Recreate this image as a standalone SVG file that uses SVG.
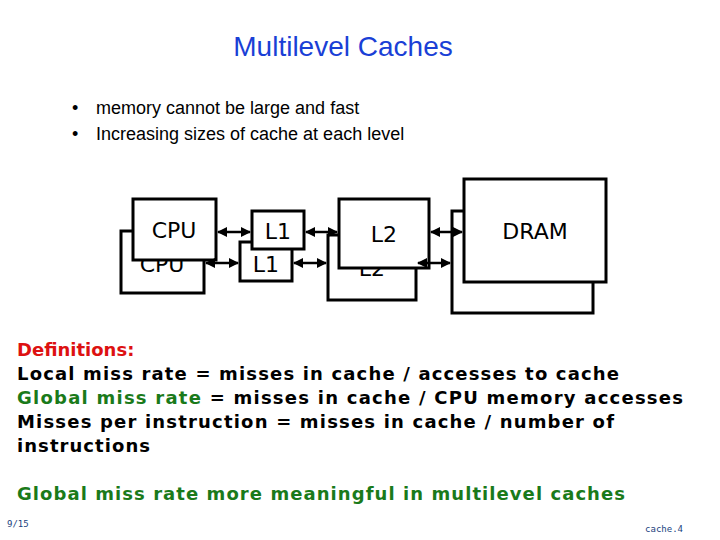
<svg xmlns="http://www.w3.org/2000/svg" width="720" height="540" viewBox="0 0 720 540">
<defs>
<marker id="a" viewBox="0 0 10 10" refX="9" refY="5" markerWidth="4" markerHeight="4" orient="auto-start-reverse"><path d="M0,0L10,5L0,10z" fill="#000"/></marker>
<style>
.b{fill:#fff;stroke:#000;stroke-width:3}
.n{font-family:"DejaVu Sans",sans-serif;font-size:22px;text-anchor:middle;fill:#000}
.d{font-family:"DejaVu Sans",sans-serif;font-weight:bold;font-size:18px;fill:#000}
.c{stroke:#000;stroke-width:2.5;fill:none;marker-start:url(#a);marker-end:url(#a)}
.s{font-family:"Liberation Sans",sans-serif;font-size:18px;fill:#000}
</style>
</defs>
<rect width="720" height="540" fill="#fff"/>
<text x="343" y="56" font-family="Liberation Sans,sans-serif" font-size="28" fill="#1a3fd6" text-anchor="middle">Multilevel Caches</text>
<text class="s" x="72" y="114">•</text><text class="s" x="96" y="114">memory cannot be large and fast</text>
<text class="s" x="72" y="140">•</text><text class="s" x="96" y="140">Increasing sizes of cache at each level</text>
<g id="cpu2"><rect class="b" x="121" y="231" width="83" height="62"/><text class="n" x="162" y="272">CPU</text></g>
<g id="l1b"><rect class="b" x="240" y="242" width="52" height="39"/><text class="n" x="266" y="272">L1</text></g>
<g id="l2b"><rect class="b" x="328" y="235" width="88" height="65"/><text class="n" x="372" y="276">L2</text></g>
<g id="dramb"><rect class="b" x="452" y="211" width="141" height="102"/></g>
<g id="cpu"><rect class="b" x="133" y="199" width="83" height="61"/><text class="n" x="174" y="238">CPU</text></g>
<g id="l1"><rect class="b" x="252" y="211" width="52" height="38"/><text class="n" x="278" y="239">L1</text></g>
<g id="l2"><rect class="b" x="339" y="199" width="90" height="69"/><text class="n" x="384" y="242">L2</text></g>
<g id="dram"><rect class="b" x="464" y="179" width="142" height="103"/><text class="n" x="535" y="239">DRAM</text></g>
<g id="connectors">
<line class="c" x1="218" y1="232" x2="250" y2="232"/>
<line class="c" x1="306" y1="232" x2="337" y2="232"/>
<line class="c" x1="431" y1="232" x2="462" y2="232"/>
<line class="c" x1="206" y1="263" x2="238" y2="263"/>
<line class="c" x1="294" y1="263" x2="326" y2="263"/>
<line class="c" x1="418" y1="263" x2="450" y2="263"/>
</g>
<text class="d" x="17" y="356" style="fill:#dd1111">Definitions:</text>
<text class="d" x="17" y="380" textLength="602">Local miss rate = misses in cache / accesses to cache</text>
<text class="d" x="17" y="404" textLength="666"><tspan style="fill:#1a7a1a">Global miss rate</tspan> = misses in cache / CPU memory accesses</text>
<text class="d" x="17" y="428" textLength="597">Misses per instruction = misses in cache / number of</text>
<text class="d" x="17" y="452" textLength="133">instructions</text>
<text class="d" x="17" y="500" textLength="608" style="fill:#1a7a1a">Global miss rate more meaningful in multilevel caches</text>
<text x="7" y="527" font-family="DejaVu Sans Mono,monospace" font-size="9" fill="#1a3f80">9/15</text>
<text x="683" y="532" font-family="DejaVu Sans Mono,monospace" font-size="9" fill="#1a3f80" text-anchor="end">cache.4</text>
</svg>
